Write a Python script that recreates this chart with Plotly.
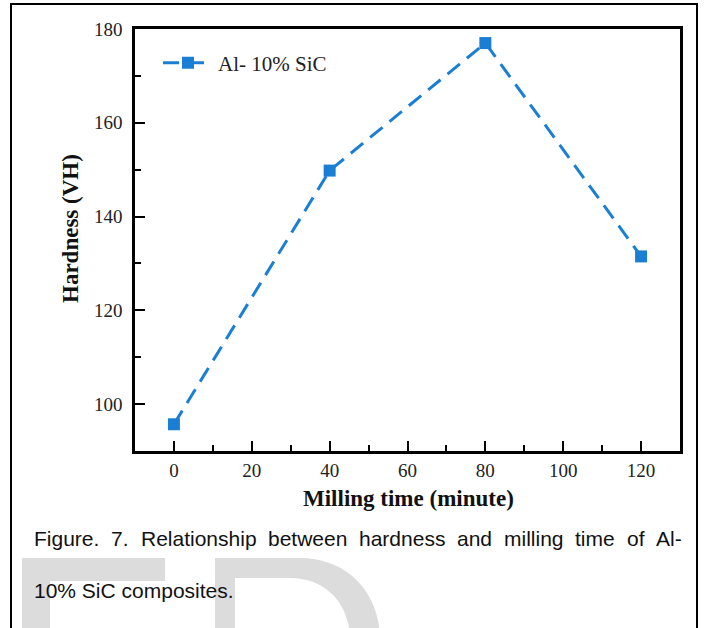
import plotly.graph_objects as go

# ---- data ----
milling_time = [0, 40, 80, 120]
hardness = [95.7, 149.8, 177.0, 131.5]
series_name = "Al- 10% SiC"
x_ticks = [0, 20, 40, 60, 80, 100, 120]
y_ticks = [100, 120, 140, 160, 180]
caption_line1 = ["Figure.", "7.", "Relationship", "between", "hardness", "and",
                 "milling", "time", "of", "Al-"]
caption_line2 = "10% SiC composites."

W, H = 708, 628
L, R, T, B = 135, 28, 29, 177
PW, PH = W - L - R, H - T - B


def px(x):
    return (x - L) / PW


def py(y):
    return (H - B - y) / PH


BLUE = "#1a7fd4"
SERIF = "Liberation Serif, Times New Roman, serif"
SANS = "Liberation Sans, Arial, sans-serif"

fig = go.Figure()
fig.add_trace(go.Scatter(
    x=milling_time, y=hardness, name=series_name, mode="lines+markers",
    line=dict(color=BLUE, width=3, dash="16px,9px"),
    marker=dict(symbol="square", size=12, color=BLUE),
))

axis_common = dict(
    showline=True, linecolor="black", linewidth=2.5, mirror=True,
    ticks="inside", ticklen=10, tickwidth=2, tickcolor="black",
    showgrid=False, zeroline=False,
    tickfont=dict(family=SERIF, size=19, color="#222"),
)
fig.update_xaxes(range=[-10, 130], tickvals=x_ticks,
                 minor=dict(ticks="inside", ticklen=6, tickwidth=2, dtick=10,
                            tick0=0, tickcolor="black", showgrid=False),
                 **axis_common)
fig.update_yaxes(range=[90, 180], tickvals=y_ticks, ticklabelstandoff=6,
                 minor=dict(ticks="inside", ticklen=6, tickwidth=2, dtick=10,
                            tick0=0, tickcolor="black", showgrid=False),
                 **axis_common)

annotations = [
    dict(text="<b>Milling time (minute)</b>", x=px(408), y=py(498),
         font=dict(family=SERIF, size=23, color="#111")),
    dict(text="<b>Hardness (VH)</b>", x=px(70), y=py(229), textangle=-90,
         font=dict(family=SERIF, size=23, color="#111")),
]

# justified caption line: distribute words evenly between left and right edges
CAP_SIZE = 21
arial_w = {"F": .611, "i": .222, "g": .556, "u": .556, "r": .333, "e": .556,
           ".": .278, "7": .556, "R": .722, "l": .222, "a": .556, "t": .278,
           "o": .556, "n": .556, "s": .5, "h": .556, "p": .556, "b": .556,
           "w": .722, "d": .556, "m": .833, "f": .278, "A": .667, "-": .333}
widths = [sum(arial_w[c] for c in w) * CAP_SIZE for w in caption_line1]
left, right = 32, 680
gap = (right - left - sum(widths)) / (len(widths) - 1)
xpos = left
for w, wd in zip(caption_line1, widths):
    annotations.append(dict(text=w, x=px(xpos), y=py(538), xanchor="left",
                            font=dict(family=SANS, size=CAP_SIZE, color="#111")))
    xpos += wd + gap
annotations.append(dict(text=caption_line2, x=px(32), y=py(590), xanchor="left",
                        font=dict(family=SANS, size=CAP_SIZE, color="#111")))
for a in annotations:
    a.update(xref="paper", yref="paper", showarrow=False)
    a.setdefault("xanchor", "center")
    a.setdefault("yanchor", "middle")

WM = "#dcdcdc"
shapes = [
    # outer frame
    dict(type="rect", x0=px(11), x1=px(697), y0=py(4), y1=py(650),
         line=dict(color="black", width=2)),
    # watermark letters
    dict(type="path", layer="below", fillcolor=WM, line=dict(width=0),
         path=f"M {px(22)},{py(558)} L {px(165)},{py(558)} L {px(165)},{py(581)} "
              f"L {px(50)},{py(581)} L {px(50)},{py(640)} L {px(22)},{py(640)} Z"),
    dict(type="path", layer="below", fillcolor=WM, line=dict(width=0),
         path=f"M {px(215)},{py(558)} L {px(300)},{py(558)} "
              f"C {px(345)},{py(558)} {px(380)},{py(590)} {px(380)},{py(640)} "
              f"L {px(350)},{py(640)} "
              f"C {px(350)},{py(603)} {px(325)},{py(578)} {px(290)},{py(578)} "
              f"L {px(235)},{py(578)} L {px(235)},{py(640)} L {px(215)},{py(640)} Z"),
]
for s in shapes:
    s.update(xref="paper", yref="paper")

fig.update_layout(
    width=W, height=H, margin=dict(l=L, r=R, t=T, b=B),
    paper_bgcolor="white", plot_bgcolor="white",
    showlegend=True,
    legend=dict(x=px(158), y=py(63), xanchor="left", yanchor="middle",
                bgcolor="rgba(0,0,0,0)", itemwidth=50,
                font=dict(family=SERIF, size=21, color="#222")),
    annotations=annotations, shapes=shapes,
)
fig.write_html("out.html")
